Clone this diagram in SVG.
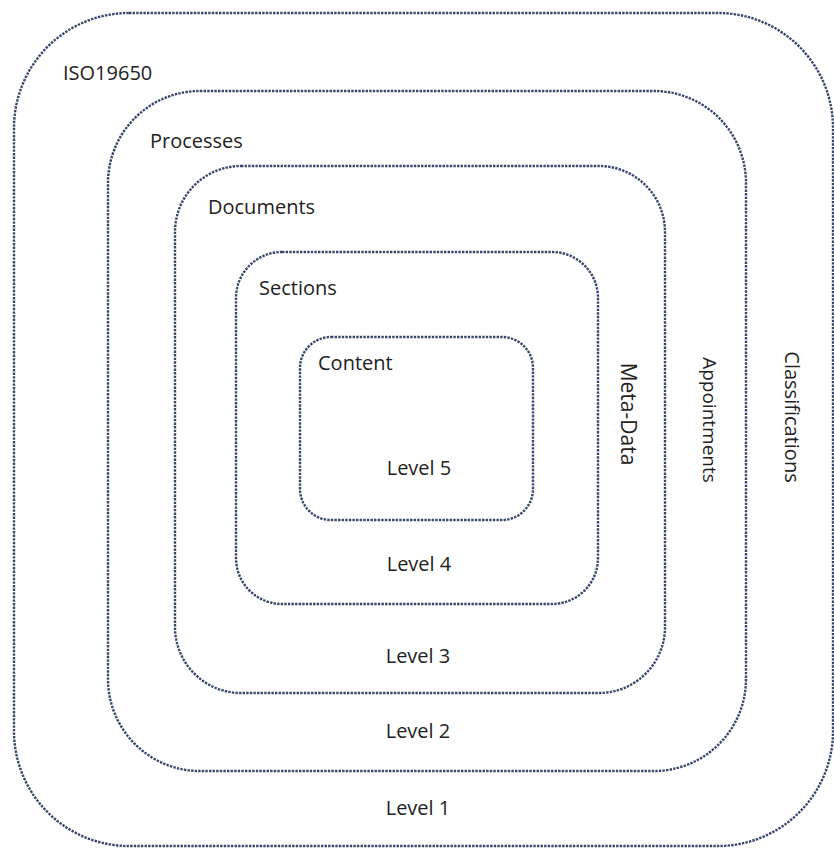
<svg xmlns="http://www.w3.org/2000/svg" width="834" height="848" viewBox="0 0 834 848">
  <style>
    .ring { fill: none; stroke: #38466a; stroke-width: 2.4; stroke-dasharray: 2.4 1.2; }
    .lbl { font-family: "Open Sans", "Noto Sans", "Liberation Sans", sans-serif; font-size: 20px; fill: #222222; }
    .mid { text-anchor: middle; }
  </style>
  <rect width="834" height="848" fill="#ffffff"/>

  <!-- Level 1: standard -->
  <g id="iso19650">
    <rect class="ring" x="14" y="13" width="819" height="833" rx="115" ry="115"/>
    <text class="lbl" x="63" y="80">ISO19650</text>
    <text class="lbl mid" x="418" y="815">Level 1</text>
    <text class="lbl mid" transform="translate(792 417) rotate(90)" dy="7">Classifications</text>
  </g>

  <!-- Level 2: processes -->
  <g id="processes">
    <rect class="ring" x="108" y="91" width="638" height="680" rx="92" ry="92"/>
    <text class="lbl" x="150" y="148">Processes</text>
    <text class="lbl mid" x="418" y="738">Level 2</text>
    <text class="lbl mid" style="font-size:19px" transform="translate(710 420) rotate(90)" dy="7">Appointments</text>
  </g>

  <!-- Level 3: documents -->
  <g id="documents">
    <rect class="ring" x="175" y="166" width="490" height="527" rx="66" ry="66"/>
    <text class="lbl" x="208" y="214">Documents</text>
    <text class="lbl mid" x="418" y="663">Level 3</text>
    <text class="lbl mid" style="font-size:21px" transform="translate(628 414) rotate(90)" dy="7">Meta-Data</text>
  </g>

  <!-- Level 4: sections -->
  <g id="sections">
    <rect class="ring" x="236" y="252" width="362" height="352" rx="46" ry="46"/>
    <text class="lbl" x="259" y="295">Sections</text>
    <text class="lbl mid" x="419" y="571">Level 4</text>
  </g>

  <!-- Level 5: content -->
  <g id="content">
    <rect class="ring" x="300" y="337" width="233" height="183" rx="31" ry="31"/>
    <text class="lbl" x="318" y="370">Content</text>
    <text class="lbl mid" x="419" y="475">Level 5</text>
  </g>

  <g id="connectors"/>
</svg>
